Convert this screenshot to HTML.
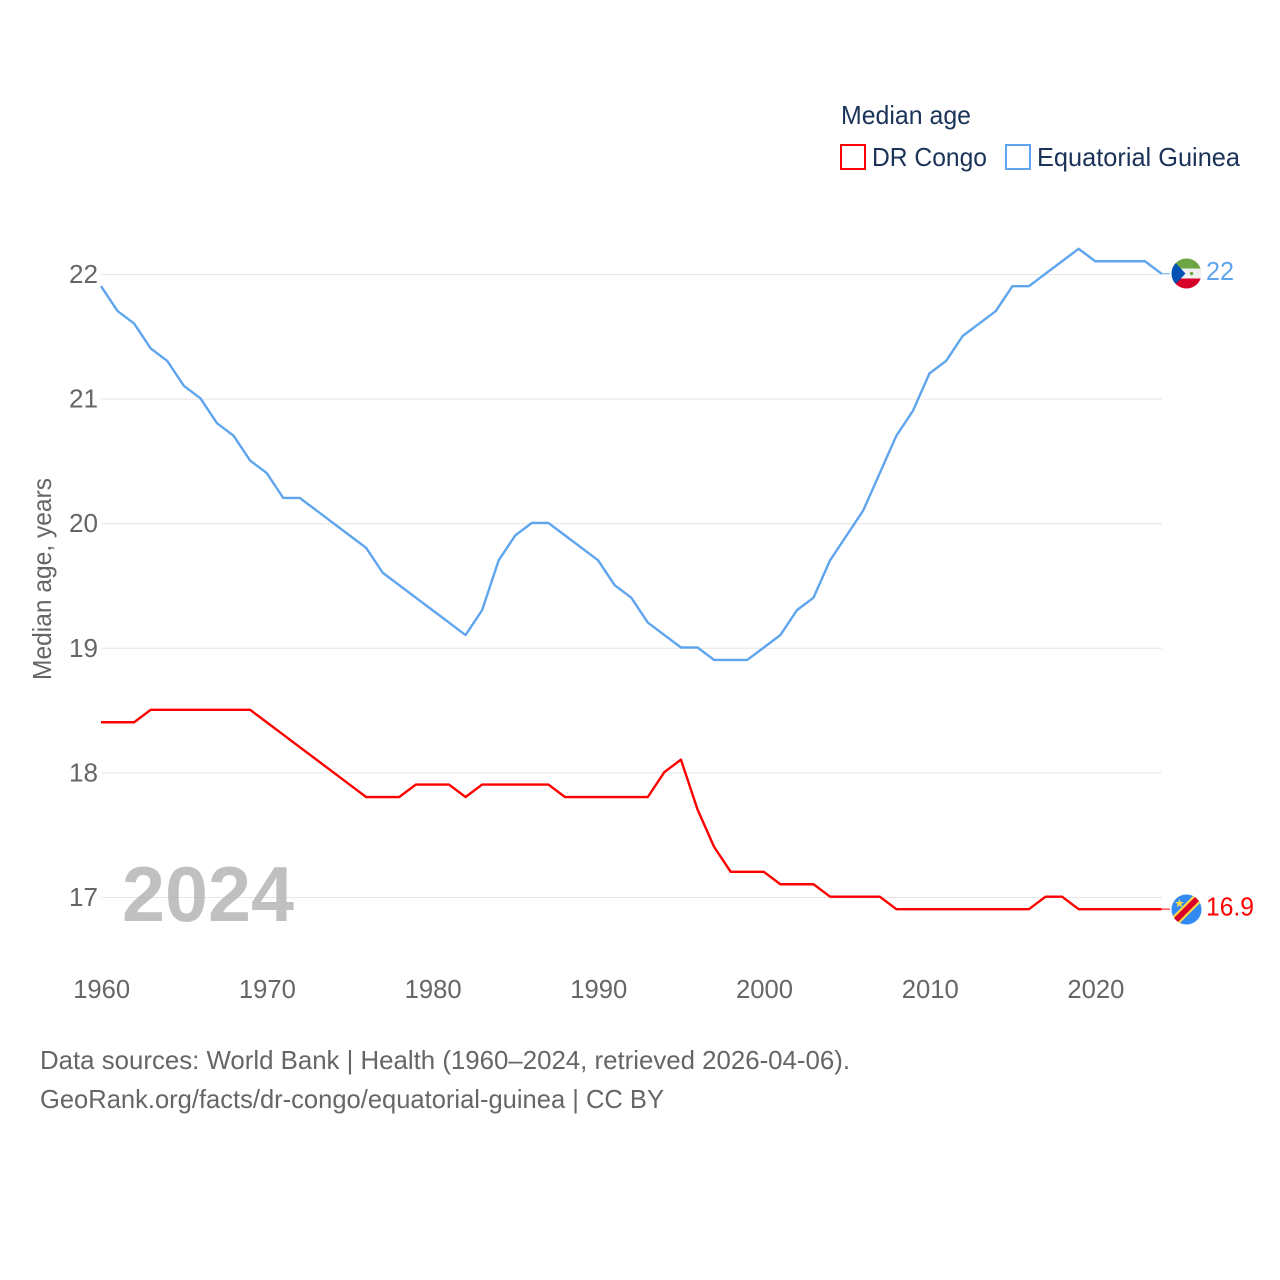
<!DOCTYPE html>
<html>
<head>
<meta charset="utf-8">
<title>Median age: DR Congo and Equatorial Guinea</title>
<style>
html,body{margin:0;padding:0;background:#fff;}
svg{display:block;}
text{font-family:"Liberation Sans",sans-serif;}
</style>
</head>
<body>
<svg id="chart" width="1280" height="1280" viewBox="0 0 1280 1280" xmlns="http://www.w3.org/2000/svg">
  <rect width="1280" height="1280" fill="#fff"/>
  <g id="grid"></g>
  <g id="ylabels"></g>
  <g id="xlabels"></g>
  <text x="294" y="921" font-size="78" font-weight="bold" fill="#b0b0b0" fill-opacity="0.8" text-anchor="end" textLength="172" lengthAdjust="spacingAndGlyphs">2024</text>
  <text transform="translate(51,579) rotate(-90)" font-size="26" fill="#666" text-anchor="middle" textLength="202" lengthAdjust="spacingAndGlyphs">Median age, years</text>
  <g id="series"></g>

  <g>
    <text x="841" y="124" font-size="26" fill="#1b3358" textLength="130" lengthAdjust="spacingAndGlyphs">Median age</text>
    <g>
      <rect x="841" y="145" width="24" height="24" fill="#fff" stroke="#ff0000" stroke-width="2"/>
      <text x="872" y="166" font-size="26" fill="#1b3358" textLength="115" lengthAdjust="spacingAndGlyphs">DR Congo</text>
    </g>
    <g>
      <rect x="1006" y="145" width="24" height="24" fill="#fff" stroke="#5fa5ee" stroke-width="2"/>
      <text x="1037" y="166" font-size="26" fill="#1b3358" textLength="203" lengthAdjust="spacingAndGlyphs">Equatorial Guinea</text>
    </g>
  </g>

  <defs>
    <clipPath id="flag-clip"><circle cx="0" cy="0" r="15"/></clipPath>
  </defs>
  <g id="flag-gq" clip-path="url(#flag-clip)">
    <rect x="-16" y="-16" width="32" height="11" fill="#6da544"/>
    <rect x="-16" y="-5" width="32" height="11" fill="#f0f0f0"/>
    <rect x="-16" y="5" width="32" height="11" fill="#d80027"/>
    <polygon points="-16,-16 -16,16 -1,0" fill="#0052b4"/>
    <circle cx="5" cy="0" r="1.8" fill="#6da544"/>
  </g>
  <g id="flag-cd" clip-path="url(#flag-clip)">
    <rect x="-16" y="-16" width="32" height="32" fill="#338af3"/>
    <polygon points="-18,11 11,-18 18,-11 -11,18" fill="#ffda44"/>
    <polygon points="-18,14 14,-18 18,-14 -14,18" fill="#d80027"/>
    <polygon points="-7,-10.5 -5.8,-7.4 -2.5,-7.4 -5.2,-5.4 -4.2,-2.2 -7,-4.1 -9.8,-2.2 -8.8,-5.4 -11.5,-7.4 -8.2,-7.4" fill="#ffda44"/>
  </g>
  <g id="endlabels"></g>

  <g>
    <text x="40" y="1069" font-size="26" fill="#666" textLength="810" lengthAdjust="spacingAndGlyphs">Data sources: World Bank | Health (1960–2024, retrieved 2026-04-06).</text>
    <text x="40" y="1108" font-size="26" fill="#666" textLength="624" lengthAdjust="spacingAndGlyphs">GeoRank.org/facts/dr-congo/equatorial-guinea | CC BY</text>
  </g>
</svg>
<script>
var startYear = 1960;
var xTickLabels = ["1960","1970","1980","1990","2000","2010","2020"];
var yTickLabels = ["17","18","19","20","21","22"];
var congoValues = [18.4,18.4,18.4,18.5,18.5,18.5,18.5,18.5,18.5,18.5,18.4,18.3,18.2,18.1,18.0,17.9,17.8,17.8,17.8,17.9,17.9,17.9,17.8,17.9,17.9,17.9,17.9,17.9,17.8,17.8,17.8,17.8,17.8,17.8,18.0,18.1,17.7,17.4,17.2,17.2,17.2,17.1,17.1,17.1,17.0,17.0,17.0,17.0,16.9,16.9,16.9,16.9,16.9,16.9,16.9,16.9,16.9,17.0,17.0,16.9,16.9,16.9,16.9,16.9,16.9];
var guineaValues = [21.9,21.7,21.6,21.4,21.3,21.1,21.0,20.8,20.7,20.5,20.4,20.2,20.2,20.1,20.0,19.9,19.8,19.6,19.5,19.4,19.3,19.2,19.1,19.3,19.7,19.9,20.0,20.0,19.9,19.8,19.7,19.5,19.4,19.2,19.1,19.0,19.0,18.9,18.9,18.9,19.0,19.1,19.3,19.4,19.7,19.9,20.1,20.4,20.7,20.9,21.2,21.3,21.5,21.6,21.7,21.9,21.9,22.0,22.1,22.2,22.1,22.1,22.1,22.1,22.0];

var SVG_NS = "http://www.w3.org/2000/svg";
function xScale(year) { return 101 + (year - 1960) * (1161.5 - 101) / 64; }
function yScale(v) { return 897.5 - (v - 17) * (897.5 - 274.5) / 5; }
function make(tag, parent, attrs, txt) {
  var el = document.createElementNS(SVG_NS, tag);
  for (var k in attrs) el.setAttribute(k, attrs[k]);
  if (txt !== undefined) el.textContent = txt;
  parent.appendChild(el);
  return el;
}

var gridG = document.getElementById("grid");
var yG = document.getElementById("ylabels");
var xG = document.getElementById("xlabels");
var seriesG = document.getElementById("series");
var endG = document.getElementById("endlabels");
var lineShiftY = -0.8;

yTickLabels.forEach(function (t) {
  var y = yScale(parseFloat(t));
  var line = make("line", gridG, {x1: 101.5, x2: 1162, y1: y, y2: y, stroke: "#e6e6e6", "stroke-width": 1});
  
  
  var label = make("text", yG, {x: 98, y: y + 8.5, "font-size": 26, fill: "#666", "text-anchor": "end", textLength: 29, lengthAdjust: "spacingAndGlyphs"}, t);
  
  
});

xTickLabels.forEach(function (t) {
  var x = xScale(parseFloat(t)) + 0.7;
  var label = make("text", xG, {x: x, y: 998, "font-size": 26, fill: "#666", "text-anchor": "middle", textLength: 57, lengthAdjust: "spacingAndGlyphs"}, t);
  
  
});

function pathFor(values) {
  return values.map(function (v, i) {
    return (i ? "L" : "M") + xScale(startYear + i).toFixed(2) + " " + (yScale(v) + lineShiftY).toFixed(2);
  }).join(" ");
}
function leaderFor(values, color) {
  var last = values[values.length - 1];
  var y = yScale(last) + lineShiftY;
  return make("line", seriesG, {x1: xScale(startYear + values.length - 1), x2: 1170, y1: y, y2: y, stroke: color, "stroke-width": 1});
}

var guineaPath = make("path", seriesG, {d: pathFor(guineaValues), fill: "none", stroke: "#5fa5ee", "stroke-width": 2.4, "stroke-linejoin": "round"});


var congoPath = make("path", seriesG, {d: pathFor(congoValues), fill: "none", stroke: "#ff0000", "stroke-width": 2.4, "stroke-linejoin": "round"});



var guineaLeader = leaderFor(guineaValues, "#5fa5ee");


var congoLeader = leaderFor(congoValues, "#ff0000");



var guineaLast = guineaValues[guineaValues.length - 1];
var congoLast = congoValues[congoValues.length - 1];
document.getElementById("flag-gq").setAttribute("transform", "translate(1186.5," + (yScale(guineaLast) - 1) + ")");
document.getElementById("flag-cd").setAttribute("transform", "translate(1186.5," + (yScale(congoLast) - 0.5) + ")");

var guineaLabel = make("text", endG, {x: 1206, y: yScale(guineaLast) + 5.5, "font-size": 26, fill: "#5fa5ee", textLength: 28, lengthAdjust: "spacingAndGlyphs"}, String(guineaLast));


var congoLabel = make("text", endG, {x: 1206, y: yScale(congoLast) + 5.5, "font-size": 26, fill: "#ff0000", textLength: 48, lengthAdjust: "spacingAndGlyphs"}, String(congoLast));


</script>
</body>
</html>
